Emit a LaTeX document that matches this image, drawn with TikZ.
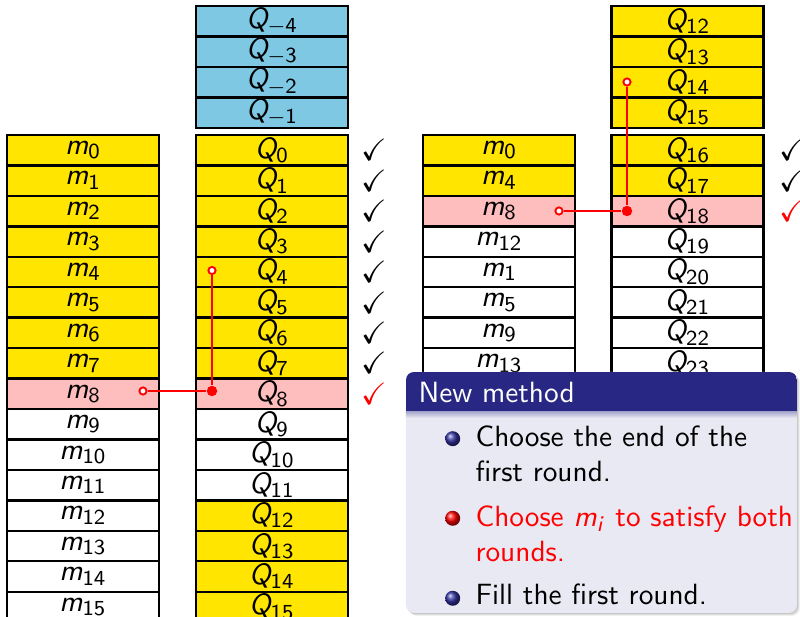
\documentclass[tikz,border=0pt]{standalone}
\usepackage{amssymb}
\DeclareMathAlphabet{\mathsfit}{OT1}{cmss}{m}{sl}
\newcommand{\msym}[1]{$\mathsfit{m}_{\mathsf{#1}}$}
\newcommand{\qsym}[1]{$\mathsfit{Q}_{\mathsf{#1}}$}
\newcommand{\qneg}[1]{$\mathsfit{Q}_{-\mathsf{#1}}$}

\definecolor{cellyellow}{RGB}{255,229,0}
\definecolor{cellblue}{RGB}{126,200,228}
\definecolor{cellpink}{RGB}{255,190,190}
\definecolor{blocktitle}{RGB}{40,40,132}
\definecolor{blockbody}{RGB}{233,233,243}
\definecolor{ballblue}{RGB}{50,50,160}

\tikzset{
  cell/.style={draw=black, line width=0.9pt, minimum width=2cm, minimum height=0.4cm,
               inner sep=0pt, font=\fontsize{10.95}{13}\selectfont},
  chk/.style={inner sep=0pt, font=\fontsize{11.5}{13}\selectfont},
  hollow/.style={circle, draw=red, fill=white, line width=0.7pt, inner sep=0pt, minimum size=2.7pt},
  hub/.style={circle, fill=red, inner sep=0pt, minimum size=3.9pt},
  link/.style={red, line width=0.7pt},
  itemtext/.style={anchor=base west, inner sep=0pt,
                   font=\sffamily\fontsize{10.95}{13}\selectfont},
}

\begin{document}
\begin{tikzpicture}[x=0.3737pt, y=-0.3737pt]
\useasboundingbox (0,0) rectangle (800,617);

% ---- first round: message words m_0 ... m_15
\foreach \i in {0,...,15}{
  \pgfmathsetmacro\yy{150.2+30.45*\i}
  \ifnum\i<8 \def\cc{cellyellow}\else\ifnum\i=8 \def\cc{cellpink}\else\def\cc{white}\fi\fi
  \node[cell, fill=\cc] (lm\i) at (83,\yy) {\msym{\i}};
}

% ---- first round: steps Q_{-4} ... Q_{-1}
\foreach \k in {0,...,3}{
  \pgfmathsetmacro\yy{21.2+30.45*\k}
  \pgfmathtruncatemacro\lab{4-\k}
  \node[cell, fill=cellblue] (lqn\lab) at (272,\yy) {\qneg{\lab}};
}

% ---- first round: steps Q_0 ... Q_15
\foreach \i in {0,...,15}{
  \pgfmathsetmacro\yy{150.2+30.45*\i}
  \ifnum\i<8 \def\cc{cellyellow}\else\ifnum\i=8 \def\cc{cellpink}\else
    \ifnum\i<12 \def\cc{white}\else\def\cc{cellyellow}\fi\fi\fi
  \node[cell, fill=\cc] (lq\i) at (272,\yy) {\qsym{\i}};
}

% ---- check marks of the first round
\foreach \i in {0,...,7}{
  \pgfmathsetmacro\yy{150.2+30.45*\i}
  \node[chk] (lc\i) at (374,\yy) {$\checkmark$};
}
\node[chk, text=red] (lc8) at (374,393.8) {$\checkmark$};

% ---- second round: permuted message words
\foreach \lab [count=\r from 0] in {0,4,8,12,1,5,9,13}{
  \pgfmathsetmacro\yy{150.2+30.45*\r}
  \ifnum\r<2 \def\cc{cellyellow}\else\ifnum\r=2 \def\cc{cellpink}\else\def\cc{white}\fi\fi
  \node[cell, fill=\cc] (rm\r) at (499,\yy) {\msym{\lab}};
}

% ---- second round: steps Q_12 ... Q_15 above
\foreach \k in {0,...,3}{
  \pgfmathsetmacro\yy{21.2+30.45*\k}
  \pgfmathtruncatemacro\lab{12+\k}
  \node[cell, fill=cellyellow] (rqt\k) at (687.5,\yy) {\qsym{\lab}};
}

% ---- second round: steps Q_16 ... Q_23
\foreach \r in {0,...,7}{
  \pgfmathsetmacro\yy{150.2+30.45*\r}
  \pgfmathtruncatemacro\lab{16+\r}
  \ifnum\r<2 \def\cc{cellyellow}\else\ifnum\r=2 \def\cc{cellpink}\else\def\cc{white}\fi\fi
  \node[cell, fill=\cc] (rq\r) at (687.5,\yy) {\qsym{\lab}};
}

% ---- check marks of the second round
\node[chk] (rc0) at (792,150.2) {$\checkmark$};
\node[chk] (rc1) at (792,180.65) {$\checkmark$};
\node[chk, text=red] (rc2) at (792,211.1) {$\checkmark$};

% ---- dependency links
\node[hollow] (la) at (143,391) {};
\node[hub]    (lb) at (212,391) {};
\node[hollow] (lt) at (212,270.5) {};
\draw[link] (la) -- (lb) -- (lt);

\node[hollow] (ra) at (559,211) {};
\node[hub]    (rb) at (627,211) {};
\node[hollow] (rt) at (627,82) {};
\draw[link] (ra) -- (rb) -- (rt);

% ---- block "New method"
\foreach \s/\o in {1/0.10,2/0.08,3/0.06}{
  \fill[black, opacity=\o, rounded corners=3pt] (406+\s,372+\s) rectangle (797+\s,613+\s);
}
\fill[blockbody, rounded corners=3pt] (406,372) rectangle (797,613);
\begin{scope}
  \clip[rounded corners=3pt] (406,372) rectangle (797,613);
  \fill[blocktitle] (406,372) rectangle (797,411.5);
  \shade[top color=blocktitle!35!blockbody, bottom color=blockbody] (406,411.5) rectangle (797,418);
\end{scope}
\node[anchor=base west, inner sep=0pt, text=white, font=\sffamily\fontsize{10.95}{13}\selectfont]
  (btitle) at (418,403) {New method};

% items
\shade[ball color=ballblue] (452.7,438.7) circle[radius=2.8pt];
\node[itemtext] (item1a) at (475,447) {Choose the end of the};
\node[itemtext] (item1b) at (475,481.5) {first round.};

\shade[ball color=red] (452.7,518.3) circle[radius=2.8pt];
\node[itemtext, text=red] (item2a) at (475,527) {Choose $\mathsfit{m}_{\mathsfit{i}}$ to satisfy both};
\node[itemtext, text=red] (item2b) at (475,561.5) {rounds.};

\shade[ball color=ballblue] (452.7,598.3) circle[radius=2.8pt];
\node[itemtext] (item3) at (475,605) {Fill the first round.};

\end{tikzpicture}
\end{document}
